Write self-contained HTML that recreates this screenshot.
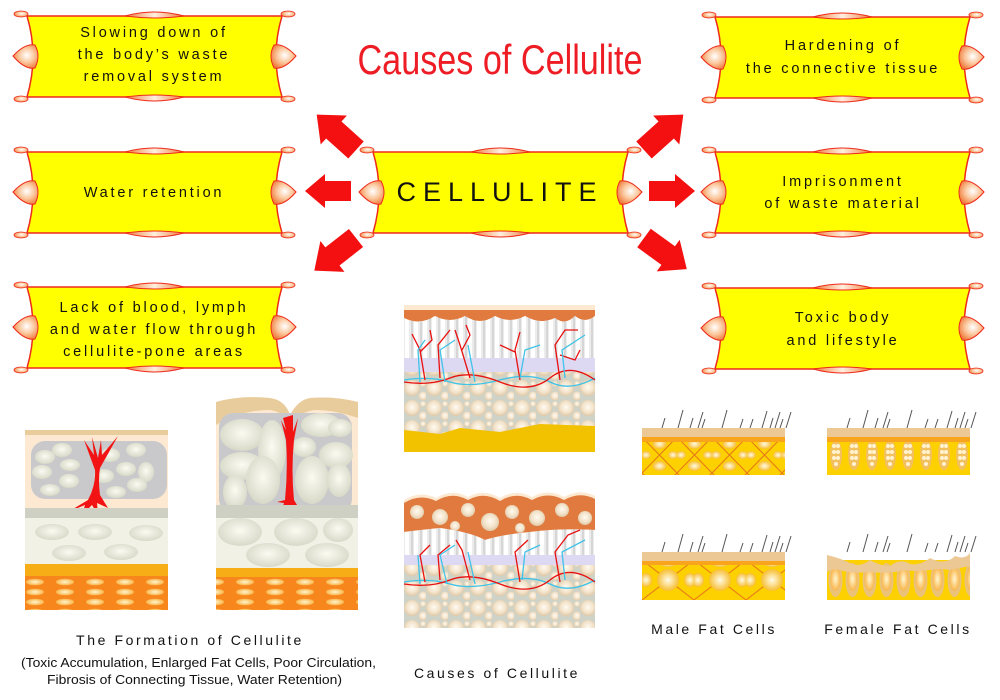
<!DOCTYPE html>
<html><head><meta charset="utf-8"><style>
html,body{margin:0;padding:0;background:#fff;}
svg{display:block;}
text{font-family:"Liberation Sans",sans-serif;}
</style></head><body>
<svg width="1000" height="700" viewBox="0 0 1000 700" xmlns="http://www.w3.org/2000/svg">
<defs>
<radialGradient id="tg" cx="0.55" cy="0.45" r="0.6"><stop offset="0" stop-color="#fff"/><stop offset="0.5" stop-color="#fbc9a0"/><stop offset="1" stop-color="#f07c3c"/></radialGradient>
<linearGradient id="lg" x1="0" y1="0" x2="1" y2="0"><stop offset="0" stop-color="#f07c3c"/><stop offset="0.5" stop-color="#fff0e0"/><stop offset="1" stop-color="#f07c3c"/></linearGradient>
<radialGradient id="fat" cx="0.5" cy="0.45" r="0.55"><stop offset="0" stop-color="#fffaf0"/><stop offset="0.6" stop-color="#f3e4cc"/><stop offset="1" stop-color="#e0c8a6"/></radialGradient>
<radialGradient id="gcell" cx="0.5" cy="0.45" r="0.6"><stop offset="0" stop-color="#fbfbf2"/><stop offset="1" stop-color="#d4d6c4"/></radialGradient>
<radialGradient id="ycell" cx="0.5" cy="0.5" r="0.55"><stop offset="0" stop-color="#fffbe6"/><stop offset="1" stop-color="#f6b820"/></radialGradient>
<radialGradient id="ocell" cx="0.5" cy="0.5" r="0.6"><stop offset="0" stop-color="#fff6d0"/><stop offset="1" stop-color="#f8a830"/></radialGradient>
<g id="ban">
 <path d="M0,0 L255,0 Q243,40 255,81 L0,81 Q12,40 0,0Z" fill="#ffff00" stroke="#ee2a1a" stroke-width="1.5"/>
 <path d="M-14,40 Q-2,27 8,29 Q14,40 8,52 Q-2,54 -14,40Z" fill="url(#tg)" stroke="#ee2a1a" stroke-width="1"/>
 <path d="M269,40 Q257,27 247,29 Q241,40 247,52 Q257,54 269,40Z" fill="url(#tg)" stroke="#ee2a1a" stroke-width="1"/>
 <path d="M98,0 Q127,-8 157,0 Q127,4 98,0Z" fill="url(#lg)" stroke="#ee2a1a" stroke-width="1"/>
 <path d="M98,81 Q127,89 157,81 Q127,77 98,81Z" fill="url(#lg)" stroke="#ee2a1a" stroke-width="1"/>
 <ellipse cx="-6" cy="-2" rx="7" ry="3" fill="url(#tg)" stroke="#ee2a1a" stroke-width="0.8"/>
 <ellipse cx="-6" cy="83" rx="7" ry="3" fill="url(#tg)" stroke="#ee2a1a" stroke-width="0.8"/>
 <ellipse cx="261" cy="-2" rx="7" ry="3" fill="url(#tg)" stroke="#ee2a1a" stroke-width="0.8"/>
 <ellipse cx="261" cy="83" rx="7" ry="3" fill="url(#tg)" stroke="#ee2a1a" stroke-width="0.8"/>
</g>
<g id="arr"><path d="M0,-10 L26,-10 L26,-17 L46,0 L26,17 L26,10 L0,10Z" fill="#f41010"/></g>
<pattern id="opat" x="25" y="578" width="30" height="10" patternUnits="userSpaceOnUse"><rect width="30" height="10" fill="#f7861c"/><ellipse cx="10" cy="4" rx="9" ry="3.3" fill="url(#ocell)"/></pattern>
<pattern id="cpat" x="404" y="380" width="22" height="20" patternUnits="userSpaceOnUse"><rect width="22" height="20" fill="#cfd2c6"/><circle cx="8" cy="8" r="8" fill="url(#fat)"/><circle cx="19" cy="16" r="4.5" fill="url(#fat)"/><circle cx="19" cy="4" r="3" fill="url(#fat)"/></pattern>
<pattern id="spat" x="404" y="300" width="9" height="40" patternUnits="userSpaceOnUse"><rect width="9" height="40" fill="#ececec"/><rect x="1" width="4" height="40" fill="#fff"/><rect x="7" width="2" height="40" fill="#d6d6d6"/></pattern>
<pattern id="mpat" x="642" y="437" width="35" height="36" patternUnits="userSpaceOnUse"><rect width="35" height="36" fill="#fdd000"/><path d="M0,0 L35,36 M35,0 L0,36" stroke="#e8741a" stroke-width="1"/><ellipse cx="17.5" cy="7" rx="7" ry="5" fill="url(#ycell)"/><ellipse cx="17.5" cy="29" rx="7" ry="5" fill="url(#ycell)"/><ellipse cx="4" cy="18" rx="5" ry="4" fill="url(#ycell)"/><ellipse cx="31" cy="18" rx="5" ry="4" fill="url(#ycell)"/></pattern>
<pattern id="fpat" x="827" y="437" width="18" height="38" patternUnits="userSpaceOnUse"><rect width="18" height="38" fill="#fdd000"/><ellipse cx="9" cy="18" rx="6" ry="15" fill="#f3c060"/><circle cx="7" cy="9" r="2" fill="#fff3d0"/><circle cx="11" cy="9" r="2" fill="#fff3d0"/><circle cx="7" cy="15" r="2" fill="#fff3d0"/><circle cx="11" cy="15" r="2" fill="#fff3d0"/><circle cx="7" cy="21" r="2" fill="#fff3d0"/><circle cx="11" cy="21" r="2" fill="#fff3d0"/><circle cx="9" cy="27" r="2" fill="#fff3d0"/></pattern>
<pattern id="m2pat" x="642" y="560" width="52" height="40" patternUnits="userSpaceOnUse"><rect width="52" height="40" fill="#fdd000"/><path d="M0,0 L52,40 M52,0 L0,40" stroke="#e8741a" stroke-width="1"/><circle cx="26" cy="20" r="11" fill="url(#ycell)"/><ellipse cx="26" cy="3" rx="9" ry="4" fill="url(#ycell)"/><ellipse cx="4" cy="20" rx="6" ry="7" fill="url(#ycell)"/><ellipse cx="48" cy="20" rx="6" ry="7" fill="url(#ycell)"/></pattern>
<pattern id="f2pat" x="827" y="560" width="17" height="40" patternUnits="userSpaceOnUse"><rect width="17" height="40" fill="#fdd000"/><ellipse cx="8.5" cy="20" rx="7" ry="17" fill="#ebc27a"/><ellipse cx="8.5" cy="19" rx="5" ry="12" fill="url(#ocell)"/></pattern>
<g id="hair" stroke="#555" stroke-width="1" fill="none"><path d="M20,0 l3,-10 M36,0 l5,-18 M48,0 l3,-10 M56,0 l5,-16 M60,0 l3,-9 M80,0 l5,-18 M98,0 l3,-9 M108,0 l3,-9 M120,0 l5,-17 M128,0 l3,-10 M133,0 l5,-16 M138,0 l3,-9 M144,0 l5,-16"/></g>
</defs>

<text x="500" y="74" text-anchor="middle" font-size="42" fill="#ee1c24" textLength="285" lengthAdjust="spacingAndGlyphs">Causes of Cellulite</text>

<use href="#ban" transform="translate(27,16)"/>
<use href="#ban" transform="translate(27,152)"/>
<use href="#ban" transform="translate(27,287)"/>
<use href="#ban" transform="translate(373,152)"/>
<use href="#ban" transform="translate(715,17)"/>
<use href="#ban" transform="translate(715,152)"/>
<use href="#ban" transform="translate(715,288)"/>

<g font-size="14.5" fill="#111" text-anchor="middle" letter-spacing="2.8">
<text x="154" y="37">Slowing down of</text>
<text x="154" y="59">the body’s waste</text>
<text x="154" y="81">removal system</text>
<text x="154" y="197">Water retention</text>
<text x="154" y="312">Lack of blood, lymph</text>
<text x="154" y="334">and water flow through</text>
<text x="154" y="356">cellulite-pone areas</text>
<text x="843" y="50">Hardening of</text>
<text x="843" y="73">the connective tissue</text>
<text x="843" y="186">Imprisonment</text>
<text x="843" y="208">of waste material</text>
<text x="843" y="322">Toxic body</text>
<text x="843" y="345">and lifestyle</text>
</g>
<text x="500" y="201" text-anchor="middle" font-size="27" fill="#111" letter-spacing="7">CELLULITE</text>

<use href="#arr" transform="translate(356,150) rotate(-138) scale(1.15)"/>
<use href="#arr" transform="translate(351,191) rotate(180)"/>
<use href="#arr" transform="translate(356,238) rotate(142) scale(1.15)"/>
<use href="#arr" transform="translate(644,150) rotate(-42) scale(1.15)"/>
<use href="#arr" transform="translate(649,191)"/>
<use href="#arr" transform="translate(644,238) rotate(36) scale(1.15)"/>

<!-- formation 1 -->
<rect x="25" y="430" width="143" height="180" fill="#fde9d2"/>
<rect x="25" y="430" width="143" height="5" fill="#e9cc9c"/>
<rect x="31" y="441" width="136" height="58" rx="14" fill="#c9c9cb"/>
<g fill="url(#gcell)"><ellipse cx="45" cy="457" rx="10" ry="7"/><ellipse cx="62" cy="450" rx="10" ry="7"/><ellipse cx="70" cy="465" rx="10" ry="6"/><ellipse cx="42" cy="472" rx="10" ry="7"/><ellipse cx="69" cy="481" rx="10" ry="7"/><ellipse cx="50" cy="490" rx="10" ry="6"/><ellipse cx="110" cy="455" rx="10" ry="7"/><ellipse cx="136" cy="450" rx="10" ry="7"/><ellipse cx="126" cy="469" rx="10" ry="7"/><ellipse cx="104" cy="476" rx="10" ry="7"/><ellipse cx="146" cy="472" rx="8" ry="10"/><ellipse cx="116" cy="492" rx="10" ry="6"/><ellipse cx="137" cy="485" rx="10" ry="7"/></g>
<path d="M92,437 L94,455 L84,440 L95,470 Q96,485 88,500 L68,512 L85,505 L82,515 L92,505 L98,515 L97,503 L108,508 L100,495 Q98,480 100,468 L118,436 L102,455 L101,440 L98,458Z" fill="#f21414"/>
<rect x="25" y="508" width="143" height="12" fill="#cfd0c4"/>
<rect x="25" y="518" width="143" height="47" fill="#f1f1e6"/>
<g fill="url(#gcell)"><ellipse cx="52" cy="532" rx="17" ry="8"/><ellipse cx="95" cy="532" rx="17" ry="8"/><ellipse cx="146" cy="533" rx="17" ry="8"/><ellipse cx="69" cy="553" rx="17" ry="8"/><ellipse cx="121" cy="552" rx="17" ry="8"/></g>
<rect x="25" y="564" width="143" height="14" fill="#f7ad16"/>
<rect x="25" y="576" width="143" height="34" fill="url(#opat)"/>

<!-- formation 2 -->
<path d="M216,402 Q240,395 270,398 Q285,400 290,415 Q298,400 310,398 Q335,396 358,402 L358,610 L216,610Z" fill="#fde9d2"/>
<path d="M216,402 Q240,395 270,398 Q285,400 290,415 Q298,400 310,398 Q335,396 358,402 L358,418 Q335,410 315,410 Q300,412 290,423 Q283,412 270,410 Q240,410 216,425Z" fill="#e9cc9c"/>
<rect x="219" y="413" width="133" height="100" rx="14" fill="#c9c9cb"/>
<g fill="url(#gcell)"><ellipse cx="242" cy="435" rx="22" ry="16"/><ellipse cx="272" cy="450" rx="14" ry="30"/><ellipse cx="242" cy="466" rx="22" ry="14"/><ellipse cx="235" cy="492" rx="12" ry="17"/><ellipse cx="263" cy="480" rx="17" ry="24"/><ellipse cx="321" cy="425" rx="20" ry="12"/><ellipse cx="340" cy="428" rx="12" ry="9"/><ellipse cx="304" cy="447" rx="12" ry="10"/><ellipse cx="336" cy="455" rx="17" ry="13"/><ellipse cx="312" cy="480" rx="17" ry="24"/><ellipse cx="339" cy="480" rx="12" ry="17"/></g>
<path d="M283,418 L286,430 L281,420 L286,440 Q288,470 285,500 L277,502 L284,503 L281,513 L288,505 L291,512 L293,505 L300,510 L294,500 Q291,470 294,440 L298,418 L293,432 L293,415Z" fill="#f21414"/>
<rect x="216" y="505" width="142" height="14" fill="#cfd0c4"/>
<rect x="216" y="518" width="142" height="52" fill="#f1f1e6"/>
<g fill="url(#gcell)"><ellipse cx="240" cy="532" rx="22" ry="14"/><ellipse cx="296" cy="532" rx="22" ry="14"/><ellipse cx="338" cy="530" rx="15" ry="12"/><ellipse cx="268" cy="555" rx="22" ry="12"/><ellipse cx="327" cy="555" rx="22" ry="12"/></g>
<rect x="216" y="568" width="142" height="10" fill="#f7ad16"/>
<rect x="216" y="577" width="142" height="33" fill="url(#opat)"/>

<!-- causes 1 -->
<rect x="404" y="305" width="191" height="5" fill="#fde9d2"/>
<path d="M404,310 L595,310 L595,316 Q585,324 575,316 Q565,326 555,318 Q540,325 525,316 Q510,324 495,316 Q480,326 465,316 Q450,324 435,316 Q420,326 404,318Z" fill="#e07a3e"/>
<path d="M404,318 Q420,326 435,316 Q450,324 465,316 Q480,326 495,316 Q510,324 525,316 Q540,325 555,318 Q565,326 575,316 Q585,324 595,316 L595,365 L404,365Z" fill="url(#spat)"/>
<rect x="404" y="358" width="191" height="14" fill="#ddd9f2"/>
<rect x="404" y="372" width="191" height="62" fill="url(#cpat)"/>
<path d="M404,430 L440,434 L460,428 L500,432 L540,424 L595,426 L595,452 L404,452Z" fill="#f2c100"/>
<g fill="none" stroke-width="1.3">
<path d="M404,380 Q430,376 450,382 T500,380 T550,382 T595,378" stroke="#3fc3e8"/>
<path d="M404,382 Q430,386 450,378 T500,382 T550,378 T595,380" stroke="#e81010"/>
<path d="M425,380 L420,350 L412,334 M420,352 L432,340 L430,330 M440,378 L438,345 L450,330 M470,378 L460,345 L455,330 M462,350 L470,335 L466,325 M520,380 L515,350 L520,332 M515,352 L500,345 M560,380 L555,345 L565,330 L578,330 M560,355 L575,360 L580,350" stroke="#e81010"/>
<path d="M420,382 L418,350 L425,340 M445,382 L440,350 L455,340 M475,382 L468,345 M520,378 L525,350 L540,345 M565,378 L562,350 L585,335" stroke="#3fc3e8"/>
</g>

<!-- causes 2 -->
<path d="M404,500 Q420,490 436,498 Q452,488 468,497 Q484,488 500,498 Q516,488 532,497 Q548,488 564,497 Q580,488 595,496 L595,628 L404,628Z" fill="#fde9d2"/>
<path d="M404,503 Q420,493 436,501 Q452,491 468,500 Q484,491 500,501 Q516,491 532,500 Q548,491 564,500 Q580,491 595,499 L595,530 Q560,528 530,532 Q500,535 485,540 Q470,532 440,528 Q420,530 404,532Z" fill="#e07a3e"/>
<g fill="url(#fat)"><circle cx="417" cy="512" r="7"/><circle cx="440" cy="517" r="8"/><circle cx="468" cy="510" r="7"/><circle cx="490" cy="522" r="9"/><circle cx="512" cy="512" r="7"/><circle cx="537" cy="518" r="8"/><circle cx="562" cy="510" r="7"/><circle cx="585" cy="518" r="7"/><circle cx="455" cy="526" r="5"/><circle cx="520" cy="528" r="5"/></g>
<path d="M404,532 Q420,530 440,528 Q470,532 485,540 Q500,535 530,532 Q560,528 595,530 L595,560 L404,560Z" fill="url(#spat)"/>
<rect x="404" y="555" width="191" height="12" fill="#ddd9f2"/>
<rect x="404" y="565" width="191" height="63" fill="url(#cpat)"/>
<g fill="none" stroke-width="1.3">
<path d="M404,582 Q430,578 450,584 T500,582 T550,584 T595,580" stroke="#3fc3e8"/>
<path d="M404,584 Q430,588 450,580 T500,584 T550,580 T595,582" stroke="#e81010"/>
<path d="M425,582 L420,555 L430,545 M440,580 L438,555 L450,545 M470,580 L462,550 L456,540 M520,582 L515,552 L528,540 M560,582 L555,552 L568,535 L580,530" stroke="#e81010"/>
<path d="M420,584 L418,555 M447,584 L440,555 L455,545 M475,584 L468,552 M522,580 L525,552 L540,545 M565,580 L562,552 L585,540" stroke="#3fc3e8"/>
</g>

<!-- male/female -->
<use href="#hair" transform="translate(642,428)"/>
<rect x="642" y="428" width="143" height="9" fill="#ecc894"/>
<rect x="642" y="437" width="143" height="5" fill="#f8a41c"/>
<rect x="642" y="442" width="143" height="33" fill="url(#mpat)"/>
<use href="#hair" transform="translate(827,428)"/>
<rect x="827" y="428" width="143" height="9" fill="#ecc894"/>
<rect x="827" y="437" width="143" height="5" fill="#f8a41c"/>
<rect x="827" y="442" width="143" height="33" fill="url(#fpat)"/>
<use href="#hair" transform="translate(642,552)"/>
<rect x="642" y="552" width="143" height="9" fill="#ecc894"/>
<rect x="642" y="561" width="143" height="4" fill="#f8a41c"/>
<rect x="642" y="565" width="143" height="35" fill="url(#m2pat)"/>
<use href="#hair" transform="translate(827,552)"/>
<rect x="827" y="560" width="143" height="40" fill="url(#f2pat)"/>
<path d="M827,555 Q840,558 850,563 Q860,568 870,560 Q880,566 890,566 Q900,558 910,564 Q920,566 930,558 Q945,566 955,556 Q965,560 970,553 L970,566 Q960,568 950,570 Q940,568 930,570 Q915,572 905,570 Q890,574 870,572 Q850,574 840,570 Q832,568 827,572Z" fill="#ecc894"/>

<g fill="#111" text-anchor="middle" font-size="14" letter-spacing="2.6">
<text x="190" y="645">The Formation of Cellulite</text>
<text x="497" y="678">Causes of Cellulite</text>
<text x="714" y="634">Male Fat Cells</text>
<text x="898" y="634">Female Fat Cells</text>
</g>
<g fill="#111" font-size="13">
<text x="21" y="667" textLength="355" lengthAdjust="spacingAndGlyphs">(Toxic Accumulation, Enlarged Fat Cells, Poor Circulation,</text>
<text x="47" y="684" textLength="295" lengthAdjust="spacingAndGlyphs">Fibrosis of Connecting Tissue, Water Retention)</text>
</g>
</svg>
</body></html>
